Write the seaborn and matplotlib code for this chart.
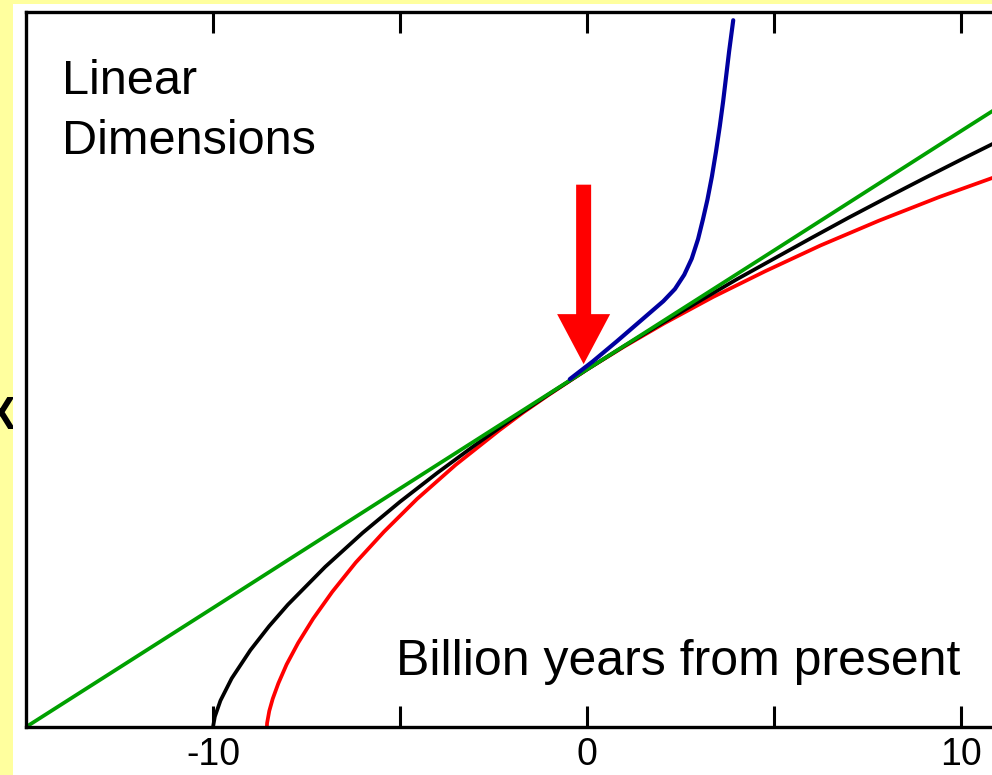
import matplotlib
matplotlib.use("Agg")
import matplotlib.pyplot as plt
from matplotlib.patches import Rectangle
import seaborn as sns

# Time axis in billions of years from the present, relative size a(t) with a = 1 today
t_empty = [-15, -10, -5, 0, 5, 10, 12]
a_empty = [0.0, 0.333, 0.667, 1.0, 1.333, 1.667, 1.80]

t_critical = [-10, -9.95, -9.8, -9.5, -9, -8.5, -8, -7, -6, -5, -4, -3, -2, -1,
              0, 1, 2, 3, 4, 5, 6, 7, 8, 9, 10, 11, 12]
a_critical = [0.0, 0.029, 0.074, 0.136, 0.215, 0.282, 0.342, 0.448, 0.543, 0.630,
              0.711, 0.788, 0.862, 0.932, 1.0, 1.066, 1.129, 1.191, 1.252, 1.310,
              1.368, 1.425, 1.480, 1.534, 1.587, 1.639, 1.691]

t_closed = [-8.56, -8.554, -8.495, -8.403, -8.253, -8.032, -7.725, -7.322, -6.812,
            -6.184, -5.43, -4.543, -3.515, -2.344, -1.703, -1.024, 0, 0.993, 2.063,
            3.373, 4.767, 6.244, 7.799, 9.432, 11.135, 12.31]
a_closed = [0.0, 0.011, 0.045, 0.079, 0.122, 0.175, 0.235, 0.303, 0.378, 0.460,
            0.546, 0.638, 0.733, 0.830, 0.880, 0.929, 1.0, 1.064, 1.129, 1.203,
            1.275, 1.347, 1.416, 1.483, 1.547, 1.589]

t_accel = [-0.46, 0.16, 0.80, 1.42, 2.04, 2.35, 2.60, 2.80, 2.97, 3.10, 3.22, 3.34,
           3.45, 3.55, 3.64, 3.72, 3.80, 3.91]
a_accel = [0.973, 1.023, 1.079, 1.135, 1.191, 1.225, 1.265, 1.310, 1.365, 1.420,
           1.475, 1.540, 1.610, 1.680, 1.750, 1.820, 1.890, 1.977]

tick_values = [-10, -5, 0, 5, 10]
tick_labels = ["-10", "", "0", "", "10"]

# "now" marker arrow: x position, tail and tip heights
now_t = -0.09
now_tail = 1.517
now_tip = 1.015

W, H = 992, 775
YELLOW = "#ffff9e"

sns.set_theme(style="white")
plt.rcParams["font.family"] = ["Liberation Sans", "DejaVu Sans"]
plt.rcParams["axes.unicode_minus"] = False

fig = plt.figure(figsize=(W / 100, H / 100), dpi=100, facecolor=YELLOW)

# clipped side label sitting on the yellow margin, partly covered by the white panel
fig.text(0 / W, (H - 417) / H, "X", ha="center", va="center", fontsize=33,
         fontweight="bold", color="black", zorder=0.5)
fig.add_artist(Rectangle((13 / W, 0), 1, (H - 3.5) / H, transform=fig.transFigure,
                         facecolor="white", edgecolor="none", zorder=0.8))

px_per_t = 37.4
x0, x1 = -15, 12
ax = fig.add_axes([26 / W, 48 / H, (x1 - x0) * px_per_t / W, (727 - 12) / H])
ax.set_zorder(1)
ax.set_facecolor("white")

lw = 2.7
sns.lineplot(x=t_closed, y=a_closed, color="#ff0000", lw=lw, ax=ax, sort=False)
sns.lineplot(x=t_critical, y=a_critical, color="black", lw=lw, ax=ax, sort=False)
sns.lineplot(x=t_empty, y=a_empty, color="#00a000", lw=lw, ax=ax, sort=False)
sns.lineplot(x=t_accel, y=a_accel, color="#0000a0", lw=3.0, ax=ax, sort=False)

ax.arrow(now_t, now_tail, 0, now_tip - now_tail, width=15 / px_per_t,
         head_width=53 / px_per_t, head_length=50 / 357.5, length_includes_head=True,
         color="#ff0000", ec="none", zorder=5)

ax.set_xlim(x0, x1)
ax.set_ylim(0, 2.0)
ax.set_xticks(tick_values)
ax.set_xticklabels(tick_labels, fontsize=27)
ax.set_yticks([])
ax.tick_params(axis="x", direction="in", length=15, width=2.2, top=True,
               bottom=True, pad=7, colors="black")
for s in ax.spines.values():
    s.set_visible(True)
    s.set_color("black")
    s.set_linewidth(2.4)
ax.set_xlabel("")
ax.set_ylabel("")

ax.text(-14.05, 1.771, "Linear", fontsize=35, ha="left", va="baseline", color="black")
ax.text(-14.05, 1.603, "Dimensions", fontsize=35, ha="left", va="baseline", color="black")
ax.text(-5.12, 0.145, "Billion years from present", fontsize=36, ha="left",
        va="baseline", color="black")

fig.savefig("out.png", dpi=100, facecolor=fig.get_facecolor())
